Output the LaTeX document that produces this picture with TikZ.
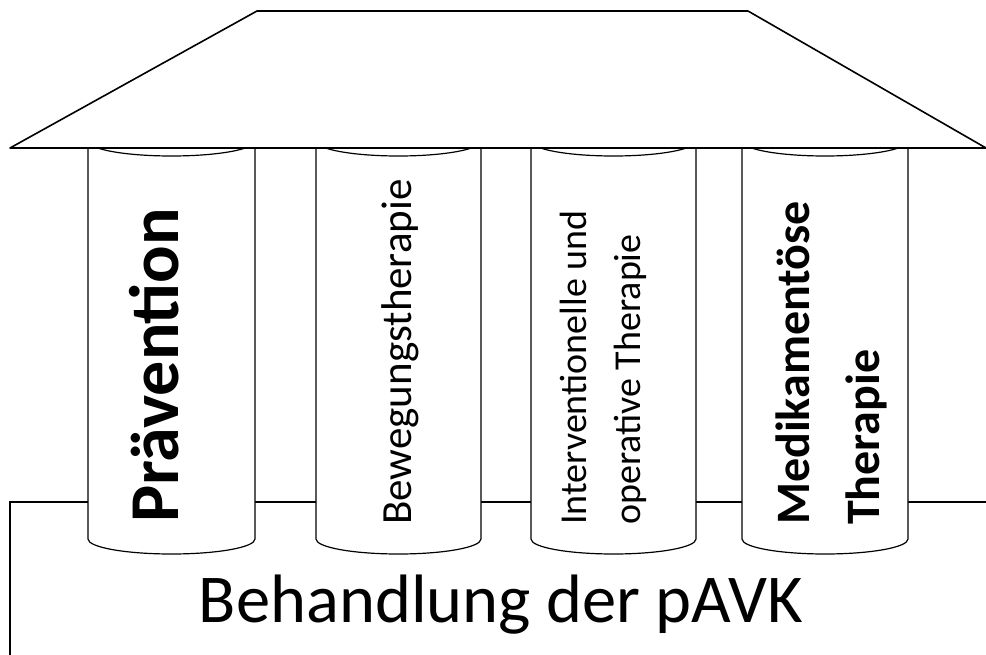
\documentclass[tikz,border=0pt]{standalone}
\usepackage{fontspec}
\setmainfont{Carlito}
\begin{document}
\begin{tikzpicture}[x=1pt,y=-1pt,
  pillar/.style={black, line width=1.2pt, fill=white},
  roof/.style={black, line width=1.6pt, fill=white, line join=round},
  pillartext/.style={rotate=90, inner sep=0pt, align=left}]
%\draw [lightgray](0,0) grid[step=50] (986,655);
\useasboundingbox (0,0) rectangle (986,655);
\clip (0,0) rectangle (986,655);

\draw [black, line width=1.2pt](10,502) rectangle (1000,700); % Sockel
\node (basis) at (501,622) [anchor=base, font=\fontsize{68.5}{80}\selectfont]{Behandlung der pAVK};

\draw [pillar](88,141) -- (88,539) arc[start angle=180, end angle=0, x radius=83.5, y radius=15]
  -- (255,141) arc[start angle=0, end angle=180, x radius=83.5, y radius=15] -- cycle; % Praevention
\node (praev) at (178,523) [pillartext, anchor=base west, font=\bfseries\fontsize{70}{84}\selectfont]{Prävention};

\draw [pillar](316,141) -- (316,539) arc[start angle=180, end angle=0, x radius=82.5, y radius=15]
  -- (481,141) arc[start angle=0, end angle=180, x radius=82.5, y radius=15] -- cycle; % Bewegung
\node (beweg) at (411,525) [pillartext, anchor=base west, font=\fontsize{43}{50}\selectfont]{Bewegungstherapie};

\draw [pillar](531,141) -- (531,539) arc[start angle=180, end angle=0, x radius=82.5, y radius=15]
  -- (696,141) arc[start angle=0, end angle=180, x radius=82.5, y radius=15] -- cycle; % Intervention
\node (interv) at (560,525) [pillartext, anchor=north west, font=\fontsize{38}{54}\selectfont]{Interventionelle und\\operative Therapie};

\draw [pillar](742,141) -- (742,539) arc[start angle=180, end angle=0, x radius=83, y radius=15]
  -- (908,141) arc[start angle=0, end angle=180, x radius=83, y radius=15] -- cycle; % Medikamente
\node (medik) at (776,525) [pillartext, anchor=north west, font=\bfseries\fontsize{48}{70}\selectfont]{Medikamentöse\\Therapie};

\draw [roof](10,148) -- (257,11) -- (748,11) -- (986,148) -- cycle; % Dach

\end{tikzpicture}
\end{document}
